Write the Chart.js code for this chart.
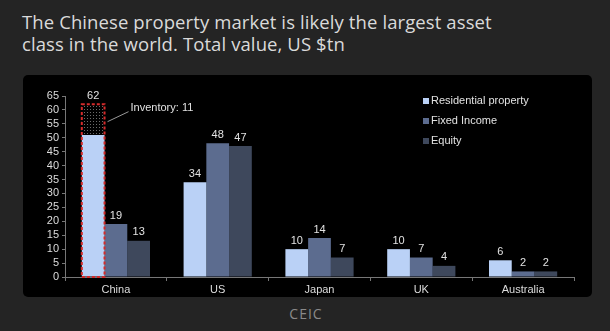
<!DOCTYPE html>
<html>
<head>
<meta charset="utf-8">
<script src="https://cdn.jsdelivr.net/npm/chart.js@4"></script>
<style>
  html, body { margin: 0; padding: 0; }
  body {
    width: 610px; height: 331px; overflow: hidden;
    background: #242424;
    font-family: "Open Sans", sans-serif;
    position: relative;
  }
  #title {
    position: absolute; left: 22px; top: 11px; width: 580px;
    color: #dadada; font-size: 18.5px; line-height: 22px;
    letter-spacing: 0.1px;
  }
  #panel {
    position: absolute; left: 23px; top: 75px; width: 569px; height: 222px;
    background: #000; border-radius: 5px; overflow: hidden;
  }
  #source {
    position: absolute; left: 0; width: 612px; top: 304px; text-align: center;
    color: #8a8a8a; font-size: 14px; letter-spacing: 1px;
  }
</style>
</head>
<body>
<div id="title">The Chinese property market is likely the largest asset<br>class in the world. Total value, US $tn</div>
<div id="panel"><canvas id="chart" width="569" height="222"></canvas></div>
<div id="source">CEIC</div>

<script>
console.log("chart loaded");

// the data
const countries = ['China', 'US', 'Japan', 'UK', 'Australia'];
const residential = [62, 34, 10, 10, 6];
const fixedIncome = [19, 48, 14, 7, 2];
const equity = [13, 47, 7, 4, 2];
const inventory = [11, 0, 0, 0, 0];
const yTicks = [0, 5, 10, 15, 20, 25, 30, 35, 40, 45, 50, 55, 60, 65];

const seriesNames = ['Residential property', 'Fixed Income', 'Equity'];
const seriesColors = ['#bad1f6', '#5c6c8f', '#3e485c'];

const labelFont = '11px "Liberation Sans", Arial, sans-serif';

// residential without the inventory part, inventory is stacked on top
const residentialBase = residential.map((v, i) => v - inventory[i]);

// dotted fill for the inventory block
function makeDots() {
    const c = document.createElement('canvas');
    c.width = 3; c.height = 3;
    const g = c.getContext('2d');
    g.fillStyle = '#000';
    g.fillRect(0, 0, 3, 3);
    g.fillStyle = '#6a6a6a';
    g.fillRect(1, 1, 1, 1);
    return g.createPattern(c, 'repeat');
}

// labels above bars, legend, inventory box and note
const extras = {
    id: 'extras',
    afterDatasetsDraw(chart) {
        const ctx = chart.ctx;
        const y = chart.scales.y;
        const area = chart.chartArea;
        const values = [residential, fixedIncome, equity];
        const metaIdx = [0, 2, 3];

        ctx.save();
        ctx.font = labelFont;
        ctx.fillStyle = '#e2e2e2';
        ctx.textAlign = 'center';
        ctx.textBaseline = 'bottom';
        for (let s = 0; s < 3; s++) {
            const meta = chart.getDatasetMeta(metaIdx[s]);
            meta.data.forEach((bar, i) => {
                const v = values[s][i];
                ctx.fillText(v, bar.x, y.getPixelForValue(v) - 3);
            });
        }

        // red dashed box round China residential
        const b = chart.getDatasetMeta(0).data[0];
        const top = y.getPixelForValue(residential[0]);
        const bottom = y.getPixelForValue(0);
        ctx.setLineDash([3, 2]);
        ctx.strokeStyle = '#d42b2b';
        ctx.lineWidth = 2;
        ctx.strokeRect(b.x - b.width / 2, top, b.width, bottom - top);
        ctx.setLineDash([]);

        // inventory note
        const midY = y.getPixelForValue(residential[0] - inventory[0] / 2);
        ctx.strokeStyle = '#9a9a9a';
        ctx.lineWidth = 1;
        ctx.beginPath();
        ctx.moveTo(b.x + b.width / 2 + 3, midY + 2);
        ctx.lineTo(b.x + b.width / 2 + 24, midY - 8);
        ctx.stroke();
        ctx.textAlign = 'left';
        ctx.textBaseline = 'middle';
        ctx.fillStyle = '#e2e2e2';
        ctx.fillText('Inventory: ' + inventory[0], b.x + b.width / 2 + 26, midY - 12);

        // legend
        seriesNames.forEach((name, k) => {
            const ly = area.top + 5 + k * 20;
            const lx = area.left + 358;
            ctx.fillStyle = seriesColors[k];
            ctx.fillRect(lx, ly - 3, 6, 6);
            ctx.fillStyle = '#e2e2e2';
            ctx.fillText(name, lx + 8, ly);
        });
        ctx.restore();
    }
};

window.onload = function() {
    const ctx = document.getElementById('chart').getContext('2d');

    const chart = new Chart(ctx, {
        type: 'bar',
        data: {
            labels: countries,
            datasets: [
                { label: seriesNames[0], data: residentialBase, backgroundColor: seriesColors[0], stack: 'a' },
                { label: 'Inventory', data: inventory, backgroundColor: makeDots(), stack: 'a' },
                { label: seriesNames[1], data: fixedIncome, backgroundColor: seriesColors[1], stack: 'b' },
                { label: seriesNames[2], data: equity, backgroundColor: seriesColors[2], stack: 'c' }
            ]
        },
        options: {
            responsive: false,
            animation: false,
            categoryPercentage: 0.67,
            barPercentage: 1,
            layout: { padding: { left: 10, right: 18, top: 21, bottom: 0 } },
            plugins: {
                legend: { display: false },
                tooltip: { enabled: false }
            },
            scales: {
                x: {
                    stacked: true,
                    afterFit: (s) => { s.height = 20; },
                    grid: { display: true, drawOnChartArea: false, offset: true, color: '#777', tickLength: 4 },
                    border: { display: true, color: '#777' },
                    ticks: {
                        color: '#dcdcdc', padding: 2,
                        font: { family: '"Liberation Sans", Arial, sans-serif', size: 11 }
                    }
                },
                y: {
                    stacked: true,
                    min: 0, max: 65,
                    afterBuildTicks: (s) => { s.ticks = yTicks.map(v => ({ value: v })); },
                    afterFit: (s) => { s.width = 32; },
                    grid: { display: true, drawOnChartArea: false, color: '#777', tickLength: 3 },
                    border: { display: true, color: '#777' },
                    ticks: {
                        color: '#dcdcdc', padding: 3, autoSkip: false,
                        font: { family: '"Liberation Sans", Arial, sans-serif', size: 11 }
                    }
                }
            }
        },
        plugins: [extras]
    });
};
</script>
</body>
</html>
